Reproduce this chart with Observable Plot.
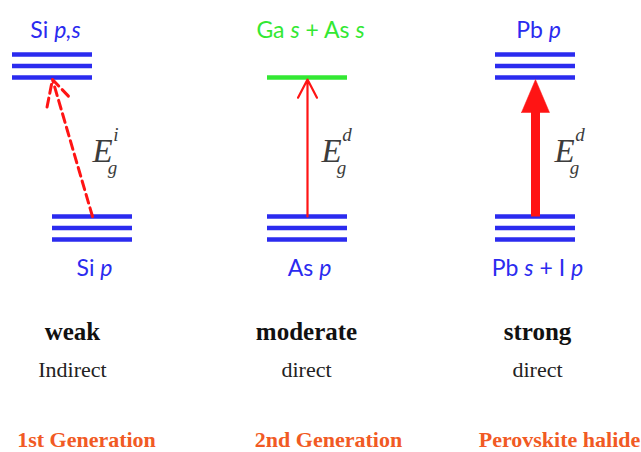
<!DOCTYPE html>
<html><head><meta charset="utf-8">
<script src="https://cdn.jsdelivr.net/npm/d3@7"></script>
<script src="https://cdn.jsdelivr.net/npm/@observablehq/plot@0.6"></script>
<style>html,body{margin:0;padding:0;background:#fff}svg{display:block}</style>
</head><body><div id="chart"></div>
<script>
// ---- data ----
const generations = ["1st Generation", "2nd Generation", "Perovskite halide"];
const strengths = ["weak", "moderate", "strong"];
const gapTypes = ["Indirect", "direct", "direct"];
const upperStates = ["Si _p,s_", "Ga _s_ + As _s_", "Pb _p_"];
const lowerStates = ["Si _p_", "As _p_", "Pb _s_ + I _p_"];
const upperLineCounts = [3, 1, 3];
const lowerLineCounts = [3, 3, 3];
const gapSuperscripts = ["i", "d", "d"];

// ---- layout (diagram units = pixels) ----
const W = 641, H = 452;
const levelX = [92, 307, 535];          // centre of the valence level per column
const indirectShift = -40;              // k-offset of the conduction level for an indirect gap
const halfLen = 40, spacing = 11.5;
const upperBase = 77, lowerBase = 216;
const textX = [72, 306, 537];
const genX = [86, 328, 559];
const blue = "#2b2bef", green = "#33e833", red = "#ff1414", orange = "#f15a24";

const cols = generations.map((g, i) => {
  const cx = levelX[i];
  const ux = cx + (gapTypes[i] === "Indirect" ? indirectShift : 0);
  return {i, g, cx, ux, strength: strengths[i], type: gapTypes[i], up: upperStates[i], low: lowerStates[i],
          upColor: upperLineCounts[i] === 1 ? green : blue, sup: gapSuperscripts[i]};
});

const levels = [];
cols.forEach((c, i) => {
  for (let k = 0; k < upperLineCounts[i]; k++)
    levels.push({x1: c.ux - halfLen, x2: c.ux + halfLen, y: upperBase - k * spacing, color: c.upColor});
  for (let k = 0; k < lowerLineCounts[i]; k++)
    levels.push({x1: c.cx - halfLen, x2: c.cx + halfLen, y: lowerBase + k * spacing, color: blue});
});

const arrows = cols.map(c => ({x1: c.cx, y1: lowerBase, x2: c.ux, y2: upperBase + 2, strength: c.strength}));
const weak = arrows.filter(a => a.strength === "weak");
const moderate = arrows.filter(a => a.strength === "moderate");
const strong = arrows.filter(a => a.strength === "strong");
const headL = 33, headHalf = 14;
const heads = strong.flatMap((a, j) => [
  {x: a.x2 - headHalf, y: a.y2 + headL, z: j},
  {x: a.x2 + headHalf, y: a.y2 + headL, z: j},
  {x: a.x2, y: a.y2, z: j},
  {x: a.x2 - headHalf, y: a.y2 + headL, z: j}
]);
const gapLabels = cols.map(c => {
  const mx = (c.cx + c.ux) / 2;
  return {x: mx + (c.strength === "weak" ? 20 : c.strength === "moderate" ? 14 : 19), y: 161, sup: c.sup};
});

const plot = Plot.plot({
  width: W, height: H, margin: 0,
  x: {domain: [0, W], range: [0, W], axis: null},
  y: {domain: [0, H], range: [0, H], axis: null},
  style: {background: "#fff"},
  marks: [
    Plot.ruleY(levels, {x1: "x1", x2: "x2", y: "y", stroke: "color", strokeWidth: 4.5}),
    Plot.arrow(weak, {x1: "x1", y1: "y1", x2: "x2", y2: "y2", stroke: red, strokeWidth: 3,
      strokeDasharray: "9,5", headLength: 14, headAngle: 55}),
    Plot.arrow(moderate, {x1: "x1", y1: "y1", x2: "x2", y2: "y2", stroke: red, strokeWidth: 2.2,
      headLength: 14, headAngle: 55}),
    Plot.link(strong, {x1: "x1", y1: "y1", x2: "x2", y2: d => d.y2 + headL - 2, stroke: red, strokeWidth: 9}),
    Plot.line(heads, {x: "x", y: "y", z: "z", fill: red, stroke: red, strokeWidth: 0.5}),
    // gap symbols E_g^x (one text each, built into tspans below)
    Plot.text(gapLabels, {x: "x", y: "y", text: d => "E|" + d.sup, fontFamily: "Liberation Serif", fontStyle: "italic", fontSize: 33, fill: "#3c3c3c", textAnchor: "start", lineAnchor: "bottom", className: "gap"}),
    // state labels
    Plot.text(cols, {x: d => d.ux + 3, y: d => 30, text: "up", fill: "upColor", fontFamily: "Lato", fontSize: 23, className: "rich"}),
    Plot.text(cols, {x: d => d.cx + 2, y: d => 268, text: "low", fill: blue, fontFamily: "Lato", fontSize: 23, className: "rich"}),
    // descriptors
    Plot.text(cols, {x: d => textX[d.i], y: d => 331, text: "strength", fontFamily: "Liberation Serif", fontWeight: "bold", fontSize: 25, fill: "#111"}),
    Plot.text(cols, {x: d => textX[d.i], y: d => 369, text: "type", fontFamily: "Liberation Serif", fontSize: 22, fill: "#222"}),
    Plot.text(cols, {x: d => genX[d.i], y: d => 439, text: "g", fontFamily: "Liberation Serif", fontWeight: "bold", fontSize: 22, fill: orange})
  ]
});

// turn _italic_ markup into tspans
d3.select(plot).selectAll(".rich text").each(function() {
  const el = d3.select(this);
  const raw = this.textContent;
  if (!raw.includes("_")) return;
  el.text(null);
  raw.split("_").forEach((part, k) => {
    if (!part) return;
    el.append("tspan").attr("font-style", k % 2 ? "italic" : null).text(part);
  });
});
// E with subscript g and superscript
d3.select(plot).selectAll(".gap text").each(function() {
  const el = d3.select(this);
  const [base, sup] = this.textContent.split("|");
  el.text(null);
  el.append("tspan").text(base);
  el.append("tspan").attr("font-size", 19).attr("dx", -5).attr("dy", 12).text("g");
  el.append("tspan").attr("font-size", 19).attr("dx", -4).attr("dy", -33).text(sup);
});
document.getElementById("chart").append(plot);
</script></body></html>
